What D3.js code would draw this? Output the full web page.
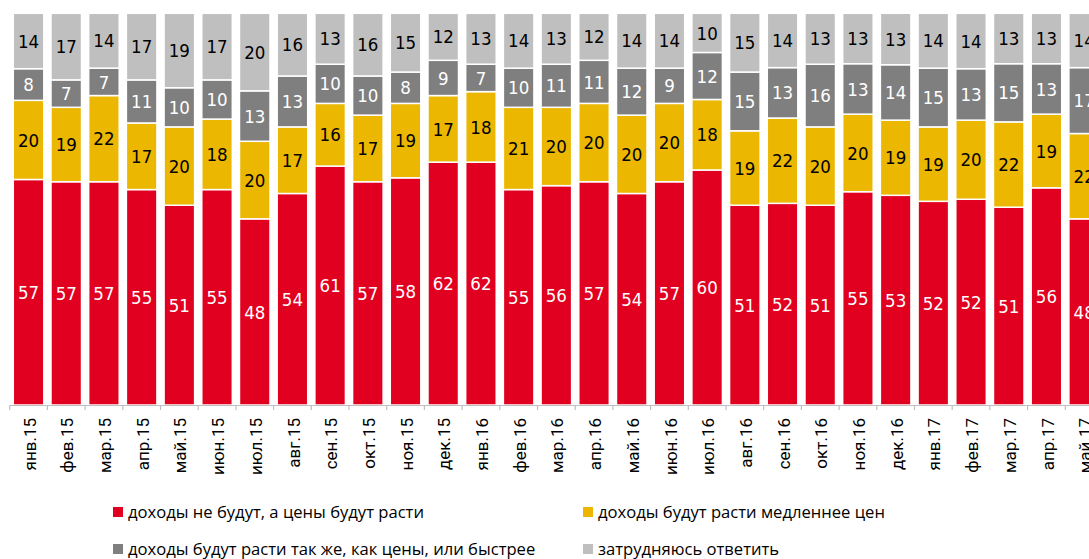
<!DOCTYPE html>
<html><head><meta charset="utf-8">
<script src="https://cdn.jsdelivr.net/npm/d3@7"></script>
<style>body{margin:0;background:#fff}</style>
</head><body>
<svg id="c" width="1089" height="559"></svg>
<script>
const categories = ["янв.15","фев.15","мар.15","апр.15","май.15","июн.15","июл.15","авг.15","сен.15","окт.15","ноя.15","дек.15","янв.16","фев.16","мар.16","апр.16","май.16","июн.16","июл.16","авг.16","сен.16","окт.16","ноя.16","дек.16","янв.17","фев.17","мар.17","апр.17","май.17"];
const seriesNames = ["доходы не будут, а цены будут расти","доходы будут расти медленнее цен","доходы будут расти так же, как цены, или  быстрее","затрудняюсь ответить"];
const redVals = [57,57,57,55,51,55,48,54,61,57,58,62,62,55,56,57,54,57,60,51,52,51,55,53,52,52,51,56,48];
const yellowVals = [20,19,22,17,20,18,20,17,16,17,19,17,18,21,20,20,20,20,18,19,22,20,20,19,19,20,22,19,22];
const darkVals = [8,7,7,11,10,10,13,13,10,10,8,9,7,10,11,11,12,9,12,15,13,16,13,14,15,13,15,13,17];
const lightVals = [14,17,14,17,19,17,20,16,13,16,15,12,13,14,13,12,14,14,10,15,14,13,13,13,14,14,13,13,14];
const colors = ["#E1001F","#EBB700","#7F7F7F","#BFBFBF"];
const labelColors = ["#fff","#000","#fff","#000"];

const keys = ["s0","s1","s2","s3"];
const table = categories.map((c,i)=>({cat:c,s0:redVals[i],s1:yellowVals[i],s2:darkVals[i],s3:lightVals[i]}));
const stack = d3.stack().keys(keys).offset(d3.stackOffsetExpand);
const series = stack(table);

const svg = d3.select("#c");
const x = d3.scaleBand().domain(categories).range([9.7, 9.7+29*37.7]).paddingInner(0.19).paddingOuter(0.095);
const y = d3.scaleLinear().domain([0,1]).range([405,13.3]);

const g = svg.append("g");
series.forEach((s,si)=>{
  const grp = g.append("g");
  grp.selectAll("rect").data(s).join("rect")
    .attr("x",d=>x(d.data.cat))
    .attr("width",x.bandwidth())
    .attr("y",d=>y(d[1]))
    .attr("height",d=>y(d[0])-y(d[1]))
    .attr("fill",colors[si])
    .attr("stroke","#fff").attr("stroke-width",1.5);
  grp.selectAll("text").data(s).join("text")
    .attr("x",d=>x(d.data.cat)+x.bandwidth()/2)
    .attr("y",d=>(y(d[0])+y(d[1]))/2)
    .attr("dy","0.36em")
    .attr("text-anchor","middle")
    .attr("fill",labelColors[si])
    .style("font-family","'Liberation Sans Narrow','DejaVu Sans Condensed',sans-serif")
    .style("font-size","18.5px")
    .text(d=>d.data[keys[si]]);
});

// axis
const step = x.step();
const gap = step - x.bandwidth();
svg.append("line").attr("x1",x.range()[0]).attr("x2",1089).attr("y1",405.5).attr("y2",405.5)
  .attr("stroke","#BFBFBF").attr("stroke-width",1.2);
svg.append("g").selectAll("line").data(categories).join("line")
  .attr("x1",d=>x(d)-gap/2).attr("x2",d=>x(d)-gap/2)
  .attr("y1",405).attr("y2",410).attr("stroke","#BFBFBF").attr("stroke-width",1.2);
const ax = d3.axisBottom(x).tickSize(0).tickPadding(0);
const axg = svg.append("g").attr("transform","translate(0,405)").call(ax);
axg.select(".domain").remove();
axg.selectAll("text")
  .attr("transform","rotate(-90)")
  .attr("x",-13).attr("y",1).attr("dy","0.36em")
  .attr("text-anchor","end")
  .attr("fill","#000")
  .style("font-family","Roboto,sans-serif")
  .style("font-size","17px");

// legend
const legendPos = [[113,512],[583,512],[113,549],[583,549]];
seriesNames.forEach((n,i)=>{
  const [lx,ly] = legendPos[i];
  svg.append("rect").attr("x",lx).attr("y",ly-5).attr("width",10).attr("height",10).attr("fill",colors[i]);
  svg.append("text").attr("x",lx+15).attr("y",ly).attr("dy","0.35em")
    .style("font-family","'Open Sans',sans-serif").style("font-size","16.6px")
    .attr("fill","#000").text(n);
});
</script>
</body></html>
